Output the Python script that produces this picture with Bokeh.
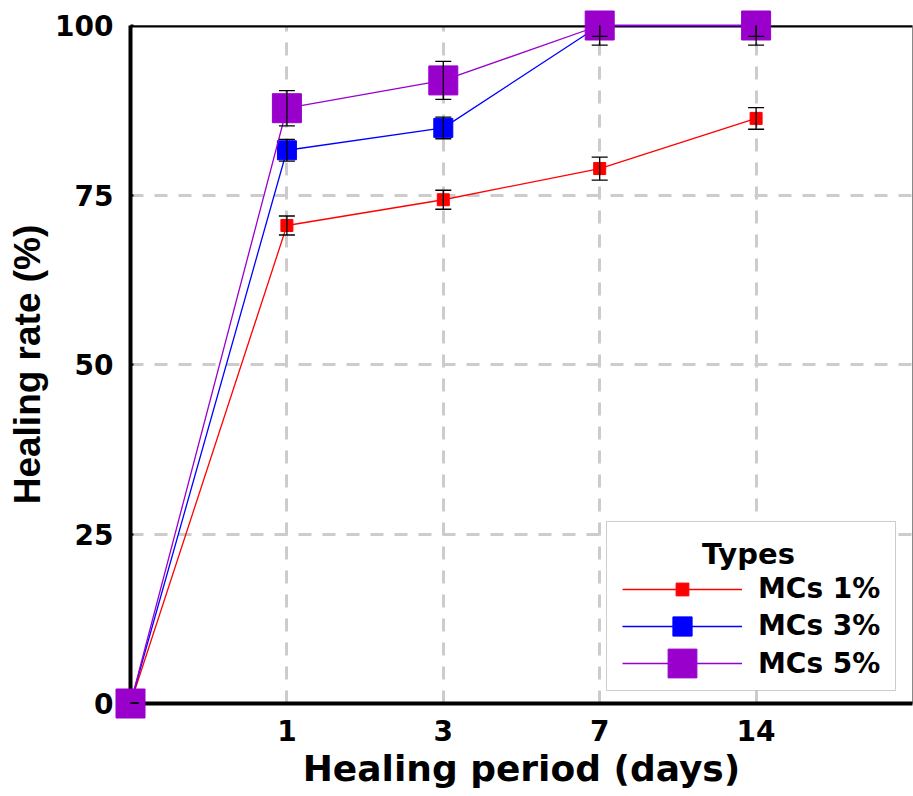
from bokeh.plotting import figure
from bokeh.models import (ColumnDataSource, Whisker, TeeHead, FixedTicker, Span,
                          Legend, LegendItem, BoxAnnotation, Label, Range1d)
from bokeh.embed import file_html
from bokeh.resources import INLINE

# ---- data ----
days = ["0", "1", "3", "7", "14"]
y_ticks = [0, 25, 50, 75, 100]
series_names = ["MCs 1%", "MCs 3%", "MCs 5%"]
mc1 = [0, 70.5, 74.3, 78.9, 86.3]
err1 = [0, 1.4, 1.4, 1.7, 1.6]
mc3 = [0, 81.6, 84.9, 100, 100]
err3 = [0, 1.6, 1.6, 1.6, 1.6]
mc5 = [0, 87.8, 91.9, 100, 100]
err5 = [0, 2.6, 2.8, 2.9, 2.9]

colors = ["#ff0000", "#0000ff", "#9900cc"]
marker_sizes = [12, 19, 29]
FONT = "DejaVu Sans"
YFONT = "Liberation Sans"

x = list(range(len(days)))

p = figure(width=913, height=796, x_range=Range1d(0, len(days)), y_range=Range1d(0, 100),
           output_backend="svg", toolbar_location=None,
           min_border_left=130, min_border_right=1, min_border_top=25, min_border_bottom=93,
           background_fill_color="white", border_fill_color="white")

p.outline_line_color = "#888888"
p.outline_line_width = 1

# axes
p.xaxis.ticker = FixedTicker(ticks=x[1:])
p.xaxis.major_label_overrides = {i: days[i] for i in x}
p.yaxis.ticker = FixedTicker(ticks=y_ticks)
for ax in (p.xaxis, p.yaxis):
    ax.axis_line_width = 4
    ax.axis_line_color = "black"
    ax.major_label_text_font = FONT
    ax.major_label_text_font_style = "bold"
    ax.major_label_text_font_size = "28px"
    ax.major_label_text_color = "black"
    ax.axis_label_text_font_style = "bold"
    ax.axis_label_text_color = "black"
    ax.minor_tick_line_color = None
p.xaxis.axis_label_text_font = FONT
p.xaxis.axis_label_text_font_size = "36px"
p.yaxis.axis_label_text_font = YFONT
p.yaxis.axis_label_text_font_size = "37px"
p.xaxis.major_tick_line_color = None
p.yaxis.major_tick_in = 3
p.yaxis.major_tick_out = 0
p.yaxis.major_tick_line_width = 2
p.xaxis.major_label_standoff = 10
p.yaxis.major_label_standoff = 17
p.xaxis.axis_label = "Healing period (days)"
p.yaxis.axis_label = "Healing rate (%)"
p.xaxis.axis_label_standoff = 4
p.yaxis.axis_label_standoff = 4

# grid
for g in (p.xgrid, p.ygrid):
    g.grid_line_color = "#cccccc"
    g.grid_line_width = 3
    g.grid_line_dash = "13 11"

# top border
p.add_layout(Span(location=100, dimension="width", line_color="black", line_width=4))

# series
renderers = []
whisk_sources = []
for name, vals, errs, col, ms in zip(series_names, [mc1, mc3, mc5], [err1, err3, err5],
                                      colors, marker_sizes):
    src = ColumnDataSource(dict(x=x, y=vals,
                                upper=[v + e for v, e in zip(vals, errs)],
                                lower=[v - e for v, e in zip(vals, errs)]))
    lr = p.line("x", "y", source=src, line_color=col, line_width=1.3, level="overlay")
    sr = p.scatter("x", "y", source=src, marker="square", size=ms, fill_color=col,
                   line_color=col, level="overlay")
    renderers.append((name, lr, sr, ms))
    whisk_sources.append(src)

for src in whisk_sources:
    w = Whisker(base="x", upper="upper", lower="lower", source=src, level="overlay",
                line_color="black", line_width=1.3,
                upper_head=TeeHead(size=16, line_color="black", line_width=1.3),
                lower_head=TeeHead(size=16, line_color="black", line_width=1.3))
    p.add_layout(w)

# legend box + title
box = BoxAnnotation(left=476, right=765, bottom=13, top=182,
                    left_units="screen", right_units="screen",
                    bottom_units="screen", top_units="screen",
                    fill_color="white", fill_alpha=1, line_color="#555555", line_width=1)
p.add_layout(box)
p.add_layout(Label(x=618, y=150, x_units="screen", y_units="screen", text="Types",
                   text_align="center", text_baseline="alphabetic",
                   text_font=FONT, text_font_style="bold", text_font_size="29px",
                   text_color="black"))

# one legend per entry so that each legend marker keeps its own size
row_centers = [114, 77, 40]  # px above the frame bottom
for (name, lr, sr, ms), rc in zip(renderers, row_centers):
    h = max(ms / 0.4, 32)
    lg = Legend(items=[LegendItem(label=name, renderers=[lr, sr])],
                location=(492, rc - h / 2), padding=0, margin=0, spacing=0,
                glyph_width=120, glyph_height=int(round(h)), label_height=int(round(h)),
                label_standoff=16,
                label_text_font=FONT, label_text_font_style="bold",
                label_text_font_size="28px", label_text_color="black",
                border_line_alpha=0, background_fill_alpha=0)
    p.add_layout(lg)

open("out.html", "w").write(file_html(p, INLINE))
